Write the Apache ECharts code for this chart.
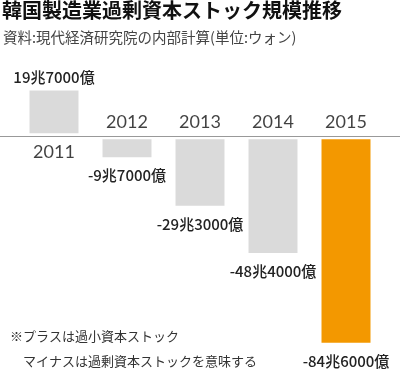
<!DOCTYPE html>
<html><head><meta charset="utf-8">
<script src="https://cdn.jsdelivr.net/npm/echarts@6/dist/echarts.min.js"></script>
<style>html,body{margin:0;padding:0;background:#fff}#c{width:400px;height:373px}</style>
</head><body><div id="c"></div>
<script>
const years = ['2011','2012','2013','2014','2015'];
const values = [19.7, -9.7, -29.3, -48.4, -84.6];
const valueLabels = ['19兆7000億','-9兆7000億','-29兆3000億','-48兆4000億','-84兆6000億'];
const barColors = ['#dadada','#dadada','#dadada','#dadada','#f39800'];
const baseline = [0,0,0,0,0];

const chart = echarts.init(document.getElementById('c'));
const jp = '"Noto Sans CJK JP", "Noto Sans", sans-serif';
chart.setOption({
  animation: false,
  title: [
    {text: '韓国製造業過剰資本ストック規模推移', left: 2, top: 0, padding: 0,
     textStyle: {fontFamily: jp, fontSize: 20, fontWeight: 'bold', color: '#111'}},
    {text: '資料:現代経済研究院の内部計算(単位:ウォン)', left: 3, top: 30, padding: 0,
     textStyle: {fontFamily: jp, fontSize: 14.5, fontWeight: 'normal', color: '#444'}},
    {text: '※プラスは過小資本ストック\n　マイナスは過剰資本ストックを意味する', left: 10, top: 324, padding: 0,
     textStyle: {fontFamily: jp, fontSize: 13, fontWeight: 'normal', color: '#333', lineHeight: 25}}
  ],
  grid: {left: 17.5, right: 17.5, top: 62, height: 297},
  xAxis: {type: 'category', data: years, axisLine: {show: false}, axisTick: {show: false}, axisLabel: {show: false}},
  yAxis: {type: 'value', min: -90, max: 30, show: false, splitLine: {show: false}},
  series: [
    {type: 'bar', barWidth: 55, z: 2,
     data: values.map((v, i) => ({
       value: v,
       itemStyle: {color: barColors[i], borderColor: '#fff', borderWidth: 3},
       label: {show: true, position: v >= 0 ? 'top' : 'bottom', distance: v >= 0 ? 3 : 8,
         formatter: valueLabels[i], fontFamily: jp, fontSize: 15, fontWeight: 500, color: '#222'}
     }))},
    {type: 'scatter', symbolSize: 0, z: 5,
     data: baseline.map((b, i) => ({
       value: b,
       label: {show: true, position: values[i] >= 0 ? 'bottom' : 'top', distance: values[i] >= 0 ? 7 : 5,
         formatter: years[i], fontFamily: 'Lato, "Liberation Sans", sans-serif', fontSize: 18, color: '#111'}
     }))}
  ]
});
const y0 = Math.round(chart.convertToPixel({yAxisIndex: 0}, 0)) + 0.5;
chart.setOption({graphic: [{type: 'line', shape: {x1: 0, y1: y0, x2: 400, y2: y0}, style: {stroke: '#999', lineWidth: 1}, z: 10}]});
</script></body></html>
